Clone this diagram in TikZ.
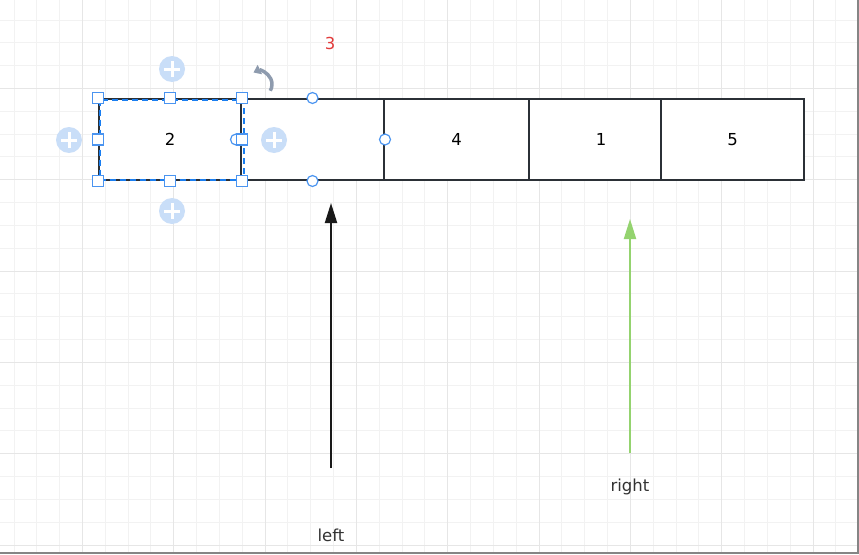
\documentclass[tikz,border=0pt]{standalone}
\usepackage{fontspec}
\setmainfont{DejaVu Sans}
\usetikzlibrary{arrows.meta}
\definecolor{gridminor}{HTML}{F2F2F2}
\definecolor{gridmajor}{HTML}{E6E6E6}
\definecolor{boxline}{HTML}{2B3036}
\definecolor{selblue}{HTML}{1A7EF0}
\definecolor{handleblue}{HTML}{4A94F0}
\definecolor{plusblue}{HTML}{C9DEF8}
\definecolor{rotgray}{HTML}{8E9BAE}
\definecolor{labred}{HTML}{E23B3B}
\definecolor{arrgreen}{HTML}{94D36F}
\definecolor{txt}{HTML}{333333}
\definecolor{edgegray}{HTML}{858585}
\tikzset{
  cell/.style={draw=boxline, line width=2pt, fill=white, minimum height=81pt, inner sep=0pt, text=black,
    font=\fontsize{16.5pt}{20pt}\selectfont},
  sqhandle/.style={draw=handleblue, line width=1.2pt, fill=white, minimum width=11pt, minimum height=11pt, inner sep=0pt},
  cirhandle/.style={draw=handleblue, line width=1.2pt, fill=white, circle, minimum size=11pt, inner sep=0pt},
  plusbtn/.style={fill=plusblue, circle, minimum size=26pt, inner sep=0pt},
  lbl/.style={text=txt, font=\fontsize{16.5pt}{20pt}\selectfont, inner sep=0pt},
  ptr/.style={line width=2pt, -{Triangle[length=20pt,width=12pt]}},
}
\begin{document}
\begin{tikzpicture}[x=1pt,y=-1pt]
\useasboundingbox (0,0) rectangle (859,554);
\fill[white] (0,0) rectangle (859,554);
% grid
\foreach \i in {-3,...,34} {
  \pgfmathsetmacro{\xx}{round(82+22.83*\i)+0.5}
  \draw[gridminor, line width=1pt] (\xx,0) -- (\xx,554);
}
\foreach \i in {-3,...,21} {
  \pgfmathsetmacro{\yy}{round(88+22.83*\i)+0.5}
  \draw[gridminor, line width=1pt] (0,\yy) -- (859,\yy);
}
\foreach \i in {0,...,8} {
  \pgfmathsetmacro{\xx}{round(82+91.33*\i)+0.5}
  \draw[gridmajor, line width=1.2pt] (\xx,0) -- (\xx,554);
}
\foreach \i in {0,...,5} {
  \pgfmathsetmacro{\yy}{round(88+91.33*\i)+0.5}
  \draw[gridmajor, line width=1.2pt] (0,\yy) -- (859,\yy);
}
% window edges
\draw[edgegray, line width=2.5pt] (0,553) -- (859,553);
\draw[edgegray, line width=2pt] (858,0) -- (858,554);

% cells
\node[cell, minimum width=142pt] (b2) at (170,139.5) {2};
\node[cell, minimum width=143pt] (b3) at (312.5,139.5) {};
\node[cell, minimum width=145pt] (b4) at (456.5,139.5) {4};
\node[cell, minimum width=144pt] (b1) at (601,139.5) {1};
\node[cell, minimum width=143pt] (b5) at (732.5,139.5) {5};
\node[text=labred, font=\fontsize{16.5pt}{20pt}\selectfont, inner sep=0pt] (l3) at (330,43) {3};

% selection outline of box 2
\draw[selblue, line width=2pt, dash pattern=on 6pt off 4pt] ([xshift=1.5pt,yshift=-1.5pt]b2.north west) rectangle ([xshift=1.5pt,yshift=1.5pt]b2.south east);

% connection circles of box 3
\node[cirhandle] (c1) at (b3.north) {};
\node[cirhandle] (c2) at (b3.south) {};
\node[cirhandle] (c3) at (b3.east) {};
\node[cirhandle] (c4) at ([xshift=-4pt]b3.west) {};

% size handles of box 2
\node[sqhandle] (h1) at (b2.north west) {};
\node[sqhandle] (h2) at (b2.north) {};
\node[sqhandle] (h3) at (b2.north east) {};
\node[sqhandle] (h4) at (b2.west) {};
\node[sqhandle] (h5) at (b2.east) {};
\node[sqhandle] (h6) at (b2.south west) {};
\node[sqhandle] (h7) at (b2.south) {};
\node[sqhandle] (h8) at (b2.south east) {};

% plus buttons
\foreach \n/\p in {pn/{(172,69)}, pw/{(69,140)}, pe/{(274,140)}, ps/{(172,211)}} {
  \node[plusbtn] (\n) at \p {};
  \draw[white, line width=3pt] ([xshift=-8pt]\n.center) -- ([xshift=8pt]\n.center);
  \draw[white, line width=3pt] ([yshift=-8pt]\n.center) -- ([yshift=8pt]\n.center);
}

% rotate icon
\coordinate (r1) at (253.5,72.5);
\draw[rotgray, line width=3.5pt, {Triangle[length=7pt,width=10pt]}-] (r1) arc[start angle=115, end angle=-30, radius=13pt];

% pointers
\node[lbl] (left) at (331,535) {left};
\node[lbl] (right) at (630,487) {right};
\coordinate (la) at (331,468);
\coordinate (lt) at (331,203);
\coordinate (ra) at (630,453);
\coordinate (rt) at (630,219);
\draw[ptr, draw=black!90, fill=black!90] (la) -- (lt);
\draw[ptr, draw=arrgreen, fill=arrgreen] (ra) -- (rt);
\end{tikzpicture}
\end{document}
